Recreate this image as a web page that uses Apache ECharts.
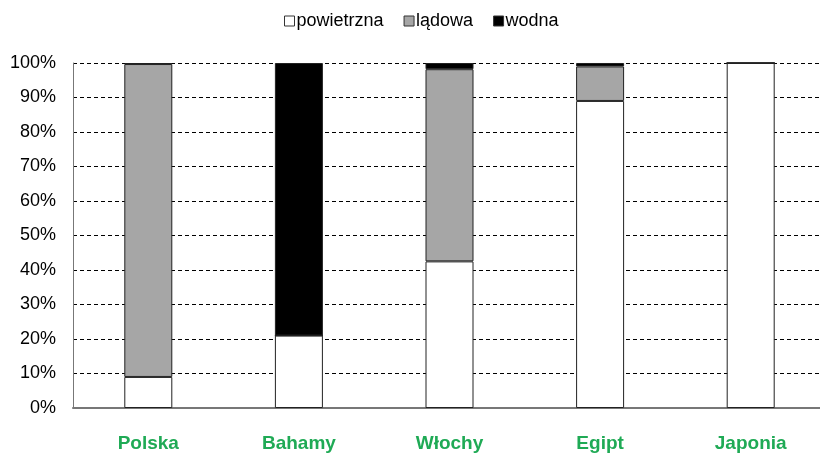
<!DOCTYPE html>
<html><head><meta charset="utf-8">
<script src="https://cdn.jsdelivr.net/npm/echarts@6/dist/echarts.min.js"></script>
<style>html,body{margin:0;padding:0;background:#fff;overflow:hidden}#c{width:826px;height:453px}</style>
</head><body><div id="c"></div>
<script>
const categories = ['Polska', 'Bahamy', 'Włochy', 'Egipt', 'Japonia'];
const powietrzna = [9, 21, 42.5, 89, 100];
const ladowa = [90.7, 0, 55.7, 10, 0];
const wodna = [0.3, 79, 1.8, 1, 0];
const yTicks = [0, 10, 20, 30, 40, 50, 60, 70, 80, 90, 100];

const chart = echarts.init(document.getElementById('c'));
const font = 'Arial, "Liberation Sans", sans-serif';
const mk = (name, data, color) => ({
  name, type: 'bar', stack: 's', data, barWidth: 48,
  itemStyle: { color, borderColor: '#222', borderWidth: 1 },
  emphasis: { disabled: true }
});
chart.setOption({
  animation: false,
  textStyle: { fontFamily: font },
  legend: {
    top: 7, left: 279, itemWidth: 10, itemHeight: 10, itemGap: 20,
    icon: 'rect',
    textStyle: { fontSize: 18, color: '#000', fontFamily: font, padding: [0, 0, 0, -3] },
    data: [
      { name: 'powietrzna', itemStyle: { color: '#fff', borderColor: '#333', borderWidth: 1 } },
      { name: 'lądowa', itemStyle: { color: '#a6a6a6', borderColor: '#333', borderWidth: 1 } },
      { name: 'wodna', itemStyle: { color: '#000', borderColor: '#333', borderWidth: 1 } }
    ]
  },
  grid: { left: 73, top: 63, right: 0, bottom: 45, containLabel: false },
  xAxis: {
    type: 'category', data: categories,
    axisLine: { lineStyle: { color: '#777', width: 2 } },
    axisTick: { show: false },
    axisLabel: { margin: 26, fontSize: 19, fontWeight: 'bold', color: '#1faa55', fontFamily: font }
  },
  yAxis: {
    type: 'value', min: 0, max: 100, interval: 10,
    axisLine: { show: true, lineStyle: { color: '#777', width: 1 } },
    axisTick: { show: false },
    axisLabel: { margin: 17, fontSize: 18, color: '#000', fontFamily: font,
      formatter: v => yTicks.includes(v) ? v + '%' : '' },
    splitLine: { lineStyle: { type: [4, 3], color: '#000', width: 1 } }
  },
  series: [
    mk('powietrzna', powietrzna, '#fff'),
    mk('lądowa', ladowa, '#a6a6a6'),
    mk('wodna', wodna, '#000')
  ]
});
</script></body></html>
